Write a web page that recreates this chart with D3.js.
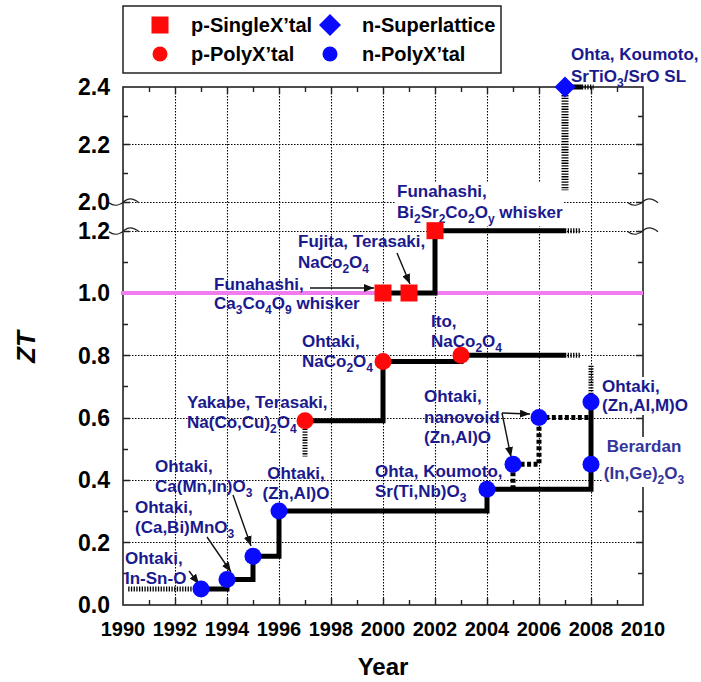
<!DOCTYPE html>
<html>
<head>
<meta charset="utf-8">
<script src="https://cdn.jsdelivr.net/npm/d3@7"></script>
<style>
body { margin: 0; background: #fff; }
svg { display: block; font-family: "Liberation Sans", Arial, Helvetica, sans-serif; font-weight: bold; }
</style>
</head>
<body>
<svg id="chart" width="701" height="682"></svg>
<script>
// axis ticks
const xTickYears = [1990, 1992, 1994, 1996, 1998, 2000, 2002, 2004, 2006, 2008, 2010];
const xMinorYears = [1991, 1993, 1995, 1997, 1999, 2001, 2003, 2005, 2007, 2009];
const yTicksLow = [0.0, 0.2, 0.4, 0.6, 0.8, 1.0, 1.2];
const yTicksHigh = [2.0, 2.2, 2.4];
const yMinorTicks = [0.1, 0.3, 0.5, 0.7, 0.9, 1.1, 2.1, 2.3];

// data points
const pSingleYear = [2000, 2001, 2002];
const pSingleZT = [1.0, 1.0, 1.2];
const pPolyYear = [1997, 2000, 2003];
const pPolyZT = [0.59, 0.78, 0.80];
const nSuperYear = [2007];
const nSuperZT = [2.4];
const nPolyYear = [1993, 1994, 1995, 1996, 2004, 2005, 2006, 2008, 2008];
const nPolyZT = [0.05, 0.08, 0.155, 0.30, 0.37, 0.45, 0.60, 0.65, 0.45];

// record lines (step)
const nRecordYear = [1993, 1994, 1995, 1996, 2004, 2008];
const nRecordZT = [0.05, 0.08, 0.155, 0.30, 0.37, 0.65];
const nanovoidYear = [2005, 2005, 2006, 2008];
const nanovoidZT = [0.37, 0.45, 0.60, 0.60];
const pPolyRecYear = [1997, 2000, 2003, 2007];
const pPolyRecZT = [0.59, 0.78, 0.80, 0.80];
const pSingleRecYear = [2000, 2002, 2007];
const pSingleRecZT = [1.0, 1.2, 1.2];
const nSuperRecYear = [2007, 2007.65];
const nSuperRecZT = [2.4, 2.4];

// hatched (uncertain) extensions: start and end [year, ZT]
const hatchFrom = [[1990.2, 0.05], [1997, 0.59], [2007, 0.80], [2007, 1.2], [2008, 0.65], [2007, 2.4], [2007.65, 2.4]];
const hatchTo = [[1993, 0.05], [1997, 0.475], [2007.6, 0.80], [2007.6, 1.2], [2008, 0.77], [2007, 2.04], [2008.1, 2.4]];

const svg = d3.select("#chart");
const pLeft = 123, pRight = 643, pTop = 87, pBottom = 605;

const x = d3.scaleLinear().domain([1990, 2010]).range([pLeft, pRight]);
const yLo = d3.scaleLinear().domain([0, 1.2]).range([604.5, 230.7]);
const yHi = d3.scaleLinear().domain([2.0, 2.4]).range([201.7, pTop]);
const y = v => v >= 1.6 ? yHi(v) : yLo(v);
const crisp = v => Math.round(v) + 0.5;

const blue = "#0a0aff", red = "#ff0a0a", navy = "#1a1a8e";

// grid: dotted lines drawn as paths
const gridPath = d3.path();
xTickYears.slice(1, -1).forEach(d => {
    gridPath.moveTo(crisp(x(d)), pTop);
    gridPath.lineTo(crisp(x(d)), pBottom);
});
yTicksLow.slice(1).concat(yTicksHigh.slice(0, -1)).forEach(d => {
    gridPath.moveTo(pLeft, crisp(y(d)));
    gridPath.lineTo(pRight, crisp(y(d)));
});
svg.append("path")
    .attr("d", gridPath.toString())
    .attr("fill", "none")
    .attr("stroke", "#000")
    .attr("stroke-width", 1.1)
    .attr("stroke-dasharray", "1.5,1.5");

// ticks (inward)
const tickPath = d3.path();
function tick(x1, y1, x2, y2) { tickPath.moveTo(x1, y1); tickPath.lineTo(x2, y2); }
xMinorYears.forEach(d => {
    tick(crisp(x(d)), pBottom, crisp(x(d)), pBottom - 5);
    tick(crisp(x(d)), pTop, crisp(x(d)), pTop + 5);
});
xTickYears.slice(1, -1).forEach(d => {
    tick(crisp(x(d)), pBottom, crisp(x(d)), pBottom - 7);
    tick(crisp(x(d)), pTop, crisp(x(d)), pTop + 7);
});
yMinorTicks.forEach(d => {
    tick(pLeft, crisp(y(d)), pLeft + 5, crisp(y(d)));
    tick(pRight, crisp(y(d)), pRight - 5, crisp(y(d)));
});
yTicksLow.slice(1).concat(yTicksHigh.slice(0, -1)).forEach(d => {
    tick(pLeft, crisp(y(d)), pLeft + 7, crisp(y(d)));
    tick(pRight, crisp(y(d)), pRight - 7, crisp(y(d)));
});
svg.append("path")
    .attr("d", tickPath.toString())
    .attr("fill", "none")
    .attr("stroke", "#222")
    .attr("stroke-width", 1.4);

// frame
svg.append("rect")
    .attr("x", pLeft).attr("y", pTop)
    .attr("width", pRight - pLeft).attr("height", pBottom - pTop)
    .attr("fill", "none").attr("stroke", "#222").attr("stroke-width", 1.6);

// axis break squiggles
[yHi(2.0), yLo(1.2)].forEach(yy => {
    [pLeft - 14, pRight - 15].forEach(x0 => {
        svg.append("path")
            .attr("d", `M${x0},${yy + 1} C${x0 + 5},${yy + 5} ${x0 + 11},${yy + 4} ${x0 + 16},${yy - 1} C${x0 + 20},${yy - 4} ${x0 + 25},${yy - 3} ${x0 + 30},${yy + 1}`)
            .attr("fill", "none").attr("stroke", "#222").attr("stroke-width", 1.4);
    });
});

// tick labels
svg.append("g").selectAll("text")
    .data(xTickYears)
    .enter().append("text")
    .attr("x", d => x(d)).attr("y", 635.5)
    .attr("text-anchor", "middle")
    .attr("font-size", 20)
    .text(d => d);
svg.append("g").selectAll("text")
    .data(yTicksLow.concat(yTicksHigh))
    .enter().append("text")
    .attr("x", 110).attr("y", d => y(d) + 8.3)
    .attr("text-anchor", "end")
    .attr("font-size", 23)
    .text(d => d.toFixed(1));

svg.append("text").attr("x", 383).attr("y", 675)
    .attr("text-anchor", "middle").attr("font-size", 24).text("Year");
svg.append("text")
    .attr("transform", "translate(35,347) rotate(-90)")
    .attr("text-anchor", "middle").attr("font-size", 26)
    .attr("font-style", "italic").text("ZT");

// ZT = 1 line
svg.append("line")
    .attr("x1", pLeft - 2).attr("x2", pRight)
    .attr("y1", y(1.0)).attr("y2", y(1.0))
    .attr("stroke", "#f07cf0").attr("stroke-width", 4);

// annotations
function richText(sel, str) {
    const parts = str.split(/(_\w)/).filter(s => s.length);
    let sub = false;
    parts.forEach(p => {
        if (p[0] === "_") {
            sel.append("tspan").attr("font-size", 12).attr("dy", 5).text(p.slice(1));
            sub = true;
        } else {
            const t = sel.append("tspan").text(p);
            if (sub) t.attr("dy", -5);
            sub = false;
        }
    });
}

const notes = [
    { lines: ["Ohtaki,", "In-Sn-O"], x: 125, y: 564, lh: 20 },
    { lines: ["Ohtaki,", "(Ca,Bi)MnO_3"], x: 135, y: 513, lh: 20 },
    { lines: ["Ohtaki,", "Ca(Mn,In)O_3"], x: 155, y: 472, lh: 20 },
    { lines: ["Ohtaki,", "(Zn,Al)O"], x: 296, y: 479, lh: 20, anchor: "middle" },
    { lines: ["Yakabe, Terasaki,", "Na(Co,Cu)_2O_4"], x: 187, y: 408, lh: 20 },
    { lines: ["Ohtaki,", "NaCo_2O_4"], x: 302, y: 347, lh: 20 },
    { lines: ["Ito,", "NaCo_2O_4"], x: 431, y: 327, lh: 20 },
    { lines: ["Funahashi,", "Ca_3Co_4O_9 whisker"], x: 214, y: 290, lh: 19 },
    { lines: ["Fujita, Terasaki,", "NaCo_2O_4"], x: 298, y: 247, lh: 21 },
    { lines: ["Funahashi,", "Bi_2Sr_2Co_2O_y whisker"], x: 397, y: 197, lh: 21, bg: true },
    { lines: ["Ohta, Koumoto,", "SrTiO_3/SrO SL"], x: 571, y: 60, lh: 22 },
    { lines: ["Ohtaki,", "nanovoid", "(Zn,Al)O"], x: 424, y: 402, lh: 20.5 },
    { lines: ["Ohta, Koumoto,", "Sr(Ti,Nb)O_3"], x: 375, y: 477, lh: 20 },
    { lines: ["Ohtaki,", "(Zn,Al,M)O"], x: 602, y: 392, lh: 19, bg: true },
    { lines: ["Berardan", "(In,Ge)_2O_3"], x: 644, y: 452, lh: 27, anchor: "middle", bg: true, color: "#34349a" }
];

notes.forEach(n => {
    const g = svg.append("g");
    n.lines.forEach((s, i) => {
        const t = g.append("text")
            .attr("x", n.x).attr("y", n.y + i * n.lh)
            .attr("text-anchor", n.anchor || "start")
            .attr("font-size", 17)
            .attr("fill", n.color || navy);
        richText(t, s);
    });
    if (n.bg) {
        const b = g.node().getBBox();
        g.insert("rect", ":first-child")
            .attr("x", b.x - 1).attr("y", b.y)
            .attr("width", b.width + 2).attr("height", b.height)
            .attr("fill", "#fff");
    }
});

// arrows
svg.append("defs").append("marker")
    .attr("id", "head").attr("viewBox", "0 0 10 8")
    .attr("refX", 10).attr("refY", 4)
    .attr("markerWidth", 10).attr("markerHeight", 8)
    .attr("markerUnits", "userSpaceOnUse")
    .attr("orient", "auto")
    .append("path").attr("d", "M0,0 L10,4 L0,8 z").attr("fill", "#111");

const arrowFrom = [[189, 571], [207, 537], [233, 495], [310, 288], [397, 253], [502, 413], [502, 413]];
const arrowTo = [[199, 584], [231, 572], [251, 546], [374, 288], [410, 284], [530, 414], [511, 457]];
arrowFrom.forEach((a, i) => {
    svg.append("line")
        .attr("x1", a[0]).attr("y1", a[1])
        .attr("x2", arrowTo[i][0]).attr("y2", arrowTo[i][1])
        .attr("stroke", "#111").attr("stroke-width", 1.4)
        .attr("marker-end", "url(#head)");
});

// step lines
const step = d3.line().x(d => x(d[0])).y(d => y(d[1])).curve(d3.curveStepAfter);
const zip = (a, b) => a.map((v, i) => [v, b[i]]);

const lines = svg.append("g").attr("fill", "none").attr("stroke", "#000");
hatchFrom.forEach((f, i) => {
    const vertical = f[0] === hatchTo[i][0];
    lines.append("path")
        .attr("d", d3.line().x(d => x(d[0])).y(d => y(d[1]))([f, hatchTo[i]]))
        .attr("stroke-width", vertical && f[1] > 2 ? 7 : 5)
        .attr("stroke-dasharray", "1.3,1.4");
});
[[nRecordYear, nRecordZT], [pPolyRecYear, pPolyRecZT], [pSingleRecYear, pSingleRecZT], [nSuperRecYear, nSuperRecZT]]
    .forEach(s => {
        lines.append("path").attr("d", step(zip(s[0], s[1])))
            .attr("stroke-width", 5).attr("stroke-linejoin", "miter");
    });
lines.append("path").attr("d", step(zip(nanovoidYear, nanovoidZT)))
    .attr("stroke-width", 5).attr("stroke-dasharray", "4,2.5");

// markers
const marks = svg.append("g");
marks.selectAll("circle.np")
    .data(zip(nPolyYear, nPolyZT))
    .enter().append("circle")
    .attr("cx", d => x(d[0])).attr("cy", d => y(d[1]))
    .attr("r", 8.5).attr("fill", blue);
marks.selectAll("circle.pp")
    .data(zip(pPolyYear, pPolyZT))
    .enter().append("circle")
    .attr("cx", d => x(d[0])).attr("cy", d => y(d[1]))
    .attr("r", 8.5).attr("fill", red);
marks.selectAll("rect.ps")
    .data(zip(pSingleYear, pSingleZT))
    .enter().append("rect")
    .attr("x", d => x(d[0]) - 8.5).attr("y", d => y(d[1]) - 8.5)
    .attr("width", 17).attr("height", 17).attr("fill", red);
marks.selectAll("path.ns")
    .data(zip(nSuperYear, nSuperZT))
    .enter().append("path")
    .attr("transform", d => `translate(${x(d[0])},${y(d[1])})`)
    .attr("d", "M0,-10.5 L10.5,0 L0,10.5 L-10.5,0 Z")
    .attr("fill", blue);

// legend
const leg = svg.append("g");
leg.append("rect").attr("x", 123).attr("y", 6).attr("width", 378).attr("height", 67)
    .attr("fill", "#fff").attr("stroke", "#222").attr("stroke-width", 1.5);
leg.append("rect").attr("x", 151.5).attr("y", 16.5).attr("width", 17).attr("height", 17).attr("fill", red);
leg.append("path").attr("transform", "translate(330,25)").attr("d", "M0,-11 L11,0 L0,11 L-11,0 Z").attr("fill", blue);
leg.append("circle").attr("cx", 160).attr("cy", 54).attr("r", 7.5).attr("fill", red);
leg.append("circle").attr("cx", 330).attr("cy", 54).attr("r", 7.5).attr("fill", blue);
const legText = [["p-SingleX\u2019tal", 191, 32], ["n-Superlattice", 362, 32], ["p-PolyX\u2019tal", 191, 61], ["n-PolyX\u2019tal", 362, 61]];
legText.forEach(t => {
    leg.append("text").attr("x", t[1]).attr("y", t[2]).attr("font-size", 20).text(t[0]);
});
</script>
</body>
</html>
